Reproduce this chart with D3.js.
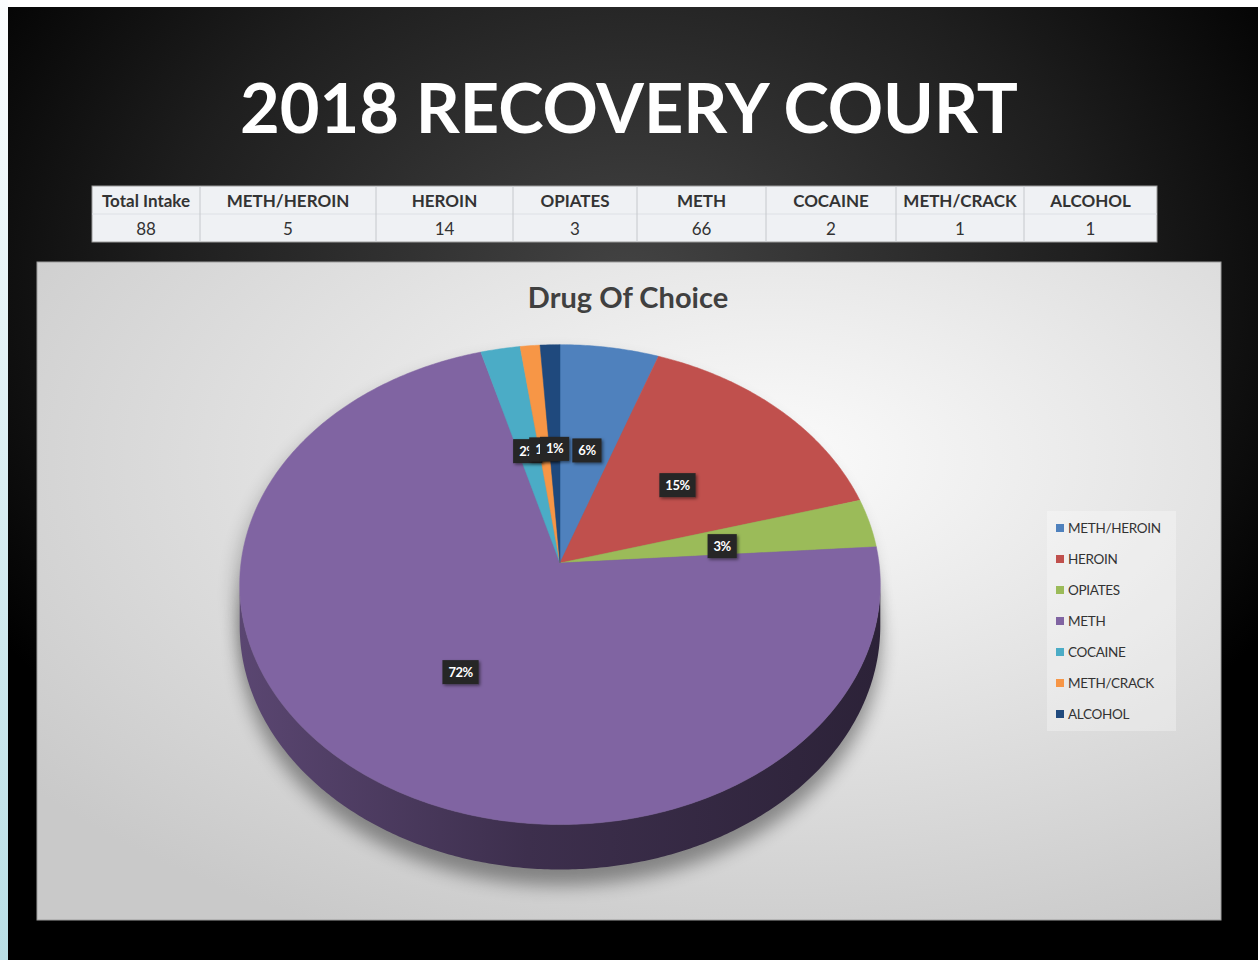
<!DOCTYPE html>
<html>
<head>
<meta charset="utf-8">
<script src="https://cdn.jsdelivr.net/npm/d3@7"></script>
<style>
  html, body { margin: 0; padding: 0; background: #000; }
  svg { display: block; font-family: Lato, "Open Sans", sans-serif; }
</style>
</head>
<body>
<svg id="chart" width="1258" height="960"></svg>
<script>
// data
const categories = ['METH/HEROIN', 'HEROIN', 'OPIATES', 'METH', 'COCAINE', 'METH/CRACK', 'ALCOHOL'];
const intake = [5, 14, 3, 66, 2, 1, 1];
const totalIntake = 88;
const pctLabels = ['6%', '15%', '3%', '72%', '2%', '1%', '1%'];
const colors = ['#4f81bd', '#c0504d', '#9bbb59', '#8064a2', '#4bacc6', '#f79646', '#1f497d'];

const mainTitle = '2018 RECOVERY COURT';
const chartTitle = 'Drug Of Choice';

const width = 1258, height = 960;
const svg = d3.select('#chart');
const defs = svg.append('defs');

// ---------- background ----------
const bg = defs.append('radialGradient').attr('id', 'bgGrad')
    .attr('cx', 0.5).attr('cy', 0.3).attr('r', 0.62);
bg.append('stop').attr('offset', 0).attr('stop-color', '#444');
bg.append('stop').attr('offset', 0.6).attr('stop-color', '#1e1e1e');
bg.append('stop').attr('offset', 1).attr('stop-color', '#000');

const strip = defs.append('linearGradient').attr('id', 'stripGrad')
    .attr('x1', 0).attr('y1', 0).attr('x2', 0).attr('y2', 1);
strip.append('stop').attr('offset', 0).attr('stop-color', '#fbfdfe');
strip.append('stop').attr('offset', 1).attr('stop-color', '#b9dfe6');

svg.append('rect').attr('width', width).attr('height', height).attr('fill', 'url(#bgGrad)');
svg.append('rect').attr('width', width).attr('height', 7).attr('fill', '#fff');
svg.append('rect').attr('width', 8).attr('height', height).attr('fill', 'url(#stripGrad)');

// ---------- title ----------
const t = svg.append('text')
    .attr('x', 629).attr('y', 133)
    .attr('text-anchor', 'middle')
    .attr('fill', '#fff')
    .style('font-weight', 700)
    .style('font-size', '72px')
    .text(mainTitle);
const tl = t.node().getComputedTextLength();
t.style('font-size', (72 * 778 / tl) + 'px');

// ---------- table ----------
const colX = [92, 200, 376, 513, 637, 766, 896, 1024, 1157];
const tableTop = 186, rowH = 28;
const headers = ['Total Intake'].concat(categories);
const values = [totalIntake].concat(intake);

const table = svg.append('g');
table.append('rect')
    .attr('x', colX[0]).attr('y', tableTop)
    .attr('width', colX[colX.length - 1] - colX[0]).attr('height', rowH * 2)
    .attr('fill', '#eff1f4').attr('stroke', '#9a9a9a');
table.append('line')
    .attr('x1', colX[0]).attr('x2', colX[colX.length - 1])
    .attr('y1', tableTop + rowH).attr('y2', tableTop + rowH)
    .attr('stroke', '#dde0e5');
table.selectAll('line.col')
    .data(colX.slice(1, -1))
    .join('line').attr('class', 'col')
    .attr('x1', d => d).attr('x2', d => d)
    .attr('y1', tableTop).attr('y2', tableTop + rowH * 2)
    .attr('stroke', '#c5c8cc');
table.selectAll('text.hd')
    .data(headers)
    .join('text').attr('class', 'hd')
    .attr('x', (d, i) => (colX[i] + colX[i + 1]) / 2)
    .attr('y', tableTop + 21)
    .attr('text-anchor', 'middle')
    .attr('fill', '#333')
    .style('font-weight', 700).style('font-size', '17px')
    .text(d => d);
table.selectAll('text.val')
    .data(values)
    .join('text').attr('class', 'val')
    .attr('x', (d, i) => (colX[i] + colX[i + 1]) / 2)
    .attr('y', tableTop + rowH + 21)
    .attr('text-anchor', 'middle')
    .attr('fill', '#333')
    .style('font-size', '17px')
    .text(d => d);

// ---------- chart panel ----------
const panelGrad = defs.append('radialGradient').attr('id', 'panelGrad')
    .attr('cx', 0.62).attr('cy', 0.3).attr('r', 0.8);
panelGrad.append('stop').attr('offset', 0).attr('stop-color', '#fbfbfb');
panelGrad.append('stop').attr('offset', 1).attr('stop-color', '#c9c9c9');

svg.append('rect')
    .attr('x', 37).attr('y', 262).attr('width', 1184).attr('height', 658)
    .attr('fill', 'url(#panelGrad)').attr('stroke', '#9d9d9d');

svg.append('text')
    .attr('x', 628).attr('y', 308)
    .attr('text-anchor', 'middle')
    .attr('fill', '#404040')
    .style('font-weight', 700).style('font-size', '29px')
    .text(chartTitle);

// ---------- 3D pie ----------
const cx = 560, cy = 563, A = 238, B = 319, persp = 0.09, depth = 45;

// disc point (angle, r) -> screen, with a little perspective
function proj(a, r, drop) {
    const u = r * Math.sin(a), v = -r * Math.cos(a);
    const den = 1 - persp * v;
    const off = drop ? depth * (1 - persp) / den : 0;
    return [cx + B * u / den, cy + A * v / den + off];
}

function arcPts(a0, a1, drop) {
    const n = Math.max(2, Math.ceil((a1 - a0) / 0.01));
    return d3.range(n + 1).map(i => proj(a0 + (a1 - a0) * i / n, 1, drop));
}

const pie = d3.pie().sort(null).value(d => d)(intake);
const line = d3.line();

// shadow
const shf = defs.append('filter').attr('id', 'pieShadow')
    .attr('x', -0.2).attr('y', -0.2).attr('width', 1.4).attr('height', 1.4);
shf.append('feGaussianBlur').attr('stdDeviation', 9);

const outline = arcPts(0, Math.PI * 2, false);
const lowOutline = arcPts(0, Math.PI * 2, true);
const pieG = svg.append('g');
pieG.append('path')
    .attr('d', line(lowOutline) + 'Z')
    .attr('transform', 'translate(0,16)')
    .attr('fill', '#000').attr('opacity', 0.38)
    .attr('filter', 'url(#pieShadow)');
pieG.append('path')
    .attr('d', line(outline) + 'Z')
    .attr('transform', 'translate(-5,10)')
    .attr('fill', '#000').attr('opacity', 0.22)
    .attr('filter', 'url(#pieShadow)');

// side walls (front part only)
const vis0 = Math.acos(-persp), vis1 = Math.PI * 2 - Math.acos(-persp);
pie.forEach((p, i) => {
    const a0 = Math.max(p.startAngle, vis0), a1 = Math.min(p.endAngle, vis1);
    if (a1 <= a0) return;
    const c = d3.color(colors[i]);
    const g = defs.append('linearGradient').attr('id', 'side' + i)
        .attr('gradientUnits', 'userSpaceOnUse')
        .attr('x1', cx - B).attr('x2', cx + B).attr('y1', 0).attr('y2', 0);
    g.append('stop').attr('offset', 0).attr('stop-color', c.darker(1.0));
    g.append('stop').attr('offset', 0.45).attr('stop-color', c.darker(2.1));
    g.append('stop').attr('offset', 1).attr('stop-color', c.darker(3));
    const top = arcPts(a0, a1, false);
    const bot = arcPts(a0, a1, true).reverse();
    pieG.append('path')
        .attr('d', line(top.concat(bot)) + 'Z')
        .attr('fill', 'url(#side' + i + ')');
});

// top face
pieG.selectAll('path.slice')
    .data(pie)
    .join('path').attr('class', 'slice')
    .attr('d', d => line([[cx, cy]].concat(arcPts(d.startAngle, d.endAngle, false))) + 'Z')
    .attr('fill', (d, i) => colors[i])
    .attr('stroke', (d, i) => colors[i]).attr('stroke-width', 0.5);

// data labels (drawn in series order, so the small top ones stack like the original)
const lblShadow = defs.append('filter').attr('id', 'lblShadow')
    .attr('x', -0.3).attr('y', -0.3).attr('width', 1.6).attr('height', 1.6);
lblShadow.append('feDropShadow')
    .attr('dx', 1.5).attr('dy', 1.5).attr('stdDeviation', 1.5)
    .attr('flood-color', '#000').attr('flood-opacity', 0.5);

pie.forEach((p, i) => {
    const mid = (p.startAngle + p.endAngle) / 2;
    const [lx, ly] = proj(mid, 0.52, false);
    const g = pieG.append('g').attr('transform', `translate(${lx},${ly + 4})`);
    const box = g.append('rect').attr('fill', '#262626').attr('filter', 'url(#lblShadow)');
    const tx = g.append('text')
        .attr('text-anchor', 'middle').attr('dy', '0.35em')
        .attr('fill', '#fff')
        .style('font-weight', 700).style('font-size', '13px')
        .style('letter-spacing', '-0.5px')
        .text(pctLabels[i]);
    const w = tx.node().getComputedTextLength() + 12;
    box.attr('x', -w / 2).attr('y', -12).attr('width', w).attr('height', 24);
});

// ---------- legend ----------
const legend = svg.append('g');
legend.append('rect')
    .attr('x', 1047).attr('y', 511).attr('width', 129).attr('height', 220)
    .attr('fill', '#fff').attr('opacity', 0.3);
const legY = d3.scalePoint().domain(categories).range([528, 714]);
const item = legend.selectAll('g.item')
    .data(categories)
    .join('g').attr('class', 'item')
    .attr('transform', d => `translate(1056,${legY(d)})`);
item.append('rect')
    .attr('x', 0).attr('y', -4).attr('width', 8).attr('height', 8)
    .attr('fill', (d, i) => colors[i]);
item.append('text')
    .attr('x', 12).attr('dy', '0.36em')
    .attr('fill', '#333')
    .style('font-size', '13.5px')
    .style('letter-spacing', '-0.3px')
    .text(d => d);
</script>
</body>
</html>
